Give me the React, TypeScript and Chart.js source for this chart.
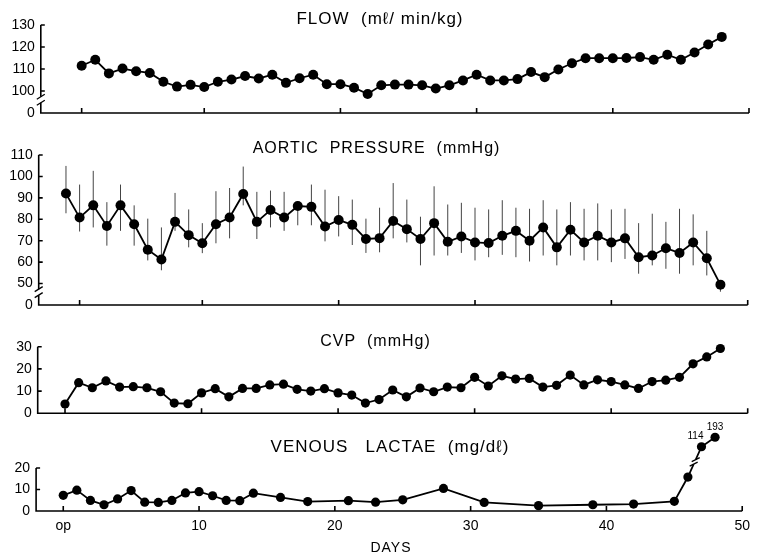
import React, { useEffect, useRef } from 'react';
import { Chart, registerables } from 'chart.js';

Chart.register(...registerables);

const FONT = '"Liberation Sans", Arial, Helvetica, sans-serif';

// ---------- FLOW (ml/min/kg) ----------
const flowDays = [1, 2, 3, 4, 5, 6, 7, 8, 9, 10, 11, 12, 13, 14, 15, 16, 17, 18, 19, 20, 21, 22, 23, 24, 25, 26, 27, 28, 29, 30, 31, 32, 33, 34, 35, 36, 37, 38, 39, 40, 41, 42, 43, 44, 45, 46, 47, 48];
const flowValues = [111.5, 114.2, 108, 110.2, 109, 108.2, 104.2, 102, 102.8, 101.8, 104.2, 105.2, 106.8, 105.7, 107.4, 103.7, 105.8, 107.4, 103.1, 103.1, 101.5, 98.6, 102.6, 102.9, 102.9, 102.6, 101.1, 102.6, 104.8, 107.4, 104.8, 104.8, 105.4, 108.6, 106.3, 109.8, 112.6, 114.9, 114.9, 114.9, 115, 115.4, 114.2, 116.5, 114.2, 117.5, 121.1, 124.6];
const flowYTicks = [90, 100, 110, 120, 130];
const flowYTickLabels = ['0', '100', '110', '120', '130'];
const flowXTicks = [1, 10, 20, 30, 40, 50];

// ---------- AORTIC PRESSURE (mmHg) ----------
const aorticDays = [0, 1, 2, 3, 4, 5, 6, 7, 8, 9, 10, 11, 12, 13, 14, 15, 16, 17, 18, 19, 20, 21, 22, 23, 24, 25, 26, 27, 28, 29, 30, 31, 32, 33, 34, 35, 36, 37, 38, 39, 40, 41, 42, 43, 44, 45, 46, 47, 48];
const aorticMean = [92, 80.8, 86.5, 76.9, 86.5, 77.7, 65.8, 61.2, 78.8, 72.6, 68.8, 77.7, 80.8, 91.8, 78.8, 84.3, 80.8, 86.2, 85.8, 76.6, 79.7, 77.4, 70.8, 71.2, 79.2, 75.4, 70.8, 78.2, 69.5, 72, 69.2, 68.9, 72.3, 74.6, 70, 76.2, 66.9, 75.1, 69.2, 72.3, 69.2, 71.1, 62.3, 63.1, 66.5, 64.3, 69.2, 61.8, 49.5];
const aorticUpper = [104.9, 96.2, 102.6, 88, 96.2, 86.5, 80.3, 76.2, 92.3, 84.6, 78.2, 93.1, 94.6, 104.6, 92.8, 93.4, 92.8, 88.5, 96.2, 93.8, 90.8, 89.2, 80.3, 85.4, 96.9, 89.2, 81.2, 95.4, 86.9, 87.7, 85.4, 84.6, 88.9, 85.4, 84.9, 88.9, 84.6, 88, 84.9, 87.4, 84.6, 84.9, 78.2, 82.6, 78.8, 84.9, 82.3, 74.6, 51.5];
const aorticLower = [82.8, 74.3, 76.2, 67.7, 74.6, 67.7, 60.8, 56.2, 74.6, 66.9, 64.2, 68.8, 71.1, 86.5, 70.8, 76.2, 74.6, 77.2, 77.2, 69.7, 72, 68, 64.3, 64.6, 71.1, 69.2, 58.5, 63.1, 63.1, 64.3, 60.8, 62.3, 63.4, 62.3, 60.3, 63.1, 58.5, 63.1, 60.8, 60.8, 60, 61.5, 54.6, 58.5, 56.9, 54.6, 58.5, 53.8, 46.2];
const aorticYTicks = [40, 50, 60, 70, 80, 90, 100, 110];
const aorticYTickLabels = ['0', '50', '60', '70', '80', '90', '100', '110'];
const aorticXTicks = [1, 10, 20, 30, 40, 50];

// ---------- CVP (mmHg) ----------
const cvpDays = [0, 1, 2, 3, 4, 5, 6, 7, 8, 9, 10, 11, 12, 13, 14, 15, 16, 17, 18, 19, 20, 21, 22, 23, 24, 25, 26, 27, 28, 29, 30, 31, 32, 33, 34, 35, 36, 37, 38, 39, 40, 41, 42, 43, 44, 45, 46, 47, 48];
const cvpValues = [4.2, 13.8, 11.5, 14.6, 11.8, 12, 11.5, 9.7, 4.6, 4.3, 9.2, 11.1, 7.4, 11.2, 11.2, 12.8, 13.1, 10.8, 10, 11.1, 9.2, 8.2, 4.6, 6.2, 10.5, 7.4, 11.4, 9.7, 11.8, 11.5, 16.2, 12.3, 16.9, 15.4, 15.7, 11.8, 12.6, 17.2, 12.8, 15.1, 14.3, 12.8, 11.2, 14.3, 14.9, 16.2, 22.3, 25.4, 29.2];
const cvpYTicks = [0, 10, 20, 30];
const cvpYTickLabels = ['0', '10', '20', '30'];
const cvpXTicks = [0, 10, 20, 30, 40, 50];

// ---------- VENOUS LACTATE (mg/dl) ----------
const lactateDays = [0, 1, 2, 3, 4, 5, 6, 7, 8, 9, 10, 11, 12, 13, 14, 16, 18, 21, 23, 25, 28, 31, 35, 39, 42, 45, 46, 47, 48];
const lactateValues = [7.3, 9.7, 4.9, 2.9, 5.6, 9.5, 4.1, 4.0, 4.9, 8.4, 9.0, 7.1, 4.9, 4.8, 8.3, 6.3, 4.4, 4.8, 4.1, 5.2, 10.5, 4.0, 2.5, 2.9, 3.2, 4.5, 15.8, 114, 193];
const lactateYTicks = [0, 10, 20];
const lactateYTickLabels = ['0', '10', '20'];
const lactateXTicks = [0, 10, 20, 30, 40, 50];
const lactateXTickLabels = ['op', '10', '20', '30', '40', '50'];

// broken axis: values above the break are drawn on a compressed segment
const LACTATE_BREAK = 20;
const lactatePlot = (v: number) => (v <= LACTATE_BREAK ? v : 23.5 + v * 0.056);

type Panel = {
  key: string;
  days: number[];
  values: number[];
  plot?: (v: number) => number;
  upper?: number[];
  lower?: number[];
  yMin: number;
  yMax: number;
  yTicks: number[];
  yTickLabels: string[];
  xTicks: number[];
  xTickLabels?: string[];
  left: number;
  right: number;
  top: number;
  bottom: number;
  yBreak: boolean;
  radius: number;
  title: string;
  titleX: number;
  titleY: number;
  titleSize: number;
  lineBreakAfter?: number;
  labelAbove?: number;
  labelOffsets?: [number, number][];
  xTitle?: { text: string; x: number; y: number };
};

const panels: Panel[] = [
  {
    key: 'flow', days: flowDays, values: flowValues, yMin: 90, yMax: 130,
    yTicks: flowYTicks, yTickLabels: flowYTickLabels, xTicks: flowXTicks,
    left: 40.8, right: 749, top: 25, bottom: 113, yBreak: true, radius: 5,
    title: 'FLOW  (m\u2113/ min/kg)', titleX: 380, titleY: 24, titleSize: 17,
  },
  {
    key: 'aortic', days: aorticDays, values: aorticMean, upper: aorticUpper, lower: aorticLower,
    yMin: 40, yMax: 110, yTicks: aorticYTicks, yTickLabels: aorticYTickLabels, xTicks: aorticXTicks,
    left: 38.7, right: 747.7, top: 155, bottom: 305, yBreak: true, radius: 5,
    title: 'AORTIC  PRESSURE  (mmHg)', titleX: 376.5, titleY: 153, titleSize: 16,
  },
  {
    key: 'cvp', days: cvpDays, values: cvpValues, yMin: 0, yMax: 30,
    yTicks: cvpYTicks, yTickLabels: cvpYTickLabels, xTicks: cvpXTicks,
    left: 37.7, right: 747.7, top: 346.7, bottom: 413.3, yBreak: false, radius: 4.6,
    title: 'CVP  (mmHg)', titleX: 375.5, titleY: 346, titleSize: 16,
  },
  {
    key: 'lactate', days: lactateDays, values: lactateValues, plot: lactatePlot, yMin: 0, yMax: 36,
    yTicks: lactateYTicks, yTickLabels: lactateYTickLabels, xTicks: lactateXTicks, xTickLabels: lactateXTickLabels,
    left: 36.1, right: 748, top: 433.6, bottom: 511, yBreak: false, radius: 4.6,
    title: 'VENOUS   LACTAE  (mg/d\u2113)', titleX: 390, titleY: 451.5, titleSize: 17,
    lineBreakAfter: 26, labelAbove: LACTATE_BREAK, labelOffsets: [[-6, -10], [0, -9.5]],
    xTitle: { text: 'DAYS', x: 391, y: 551.5 },
  },
];

const makeDecor = (p: Panel) => ({
  id: 'decor_' + p.key,
  beforeDatasetsDraw(chart: any) {
    const { ctx, chartArea: a, scales } = chart;
    const xs = scales.x;
    const ys = scales.y;
    ctx.save();
    if (p.upper && p.lower) {
      const meta = chart.getDatasetMeta(0);
      ctx.strokeStyle = '#444';
      ctx.lineWidth = 1;
      ctx.beginPath();
      meta.data.forEach((pt: any, i: number) => {
        ctx.moveTo(pt.x, ys.getPixelForValue(p.upper![i]));
        ctx.lineTo(pt.x, ys.getPixelForValue(p.lower![i]));
      });
      ctx.stroke();
    }
    ctx.strokeStyle = '#000';
    ctx.lineWidth = 1.6;
    const L = a.left;
    const B = a.bottom;
    const top = ys.getPixelForValue(p.yTicks[p.yTicks.length - 1]);
    const xEnd = xs.getPixelForValue(50);
    let yb = 0;
    ctx.beginPath();
    if (p.yBreak) {
      const t1 = ys.getPixelForValue(p.yTicks[1]);
      yb = t1 + 0.4 * (B - t1);
      ctx.moveTo(L, top);
      ctx.lineTo(L, yb - 3);
      ctx.moveTo(L, yb + 3);
      ctx.lineTo(L, B);
    } else {
      ctx.moveTo(L, top);
      ctx.lineTo(L, B);
    }
    ctx.lineTo(xEnd, B);
    p.yTicks.slice(1).forEach((v) => {
      const py = ys.getPixelForValue(v);
      ctx.moveTo(L, py);
      ctx.lineTo(L + 4, py);
    });
    p.xTicks.forEach((v) => {
      const px = xs.getPixelForValue(v);
      ctx.moveTo(px, B);
      ctx.lineTo(px, B - 5);
    });
    ctx.stroke();
    if (p.yBreak) {
      ctx.lineWidth = 1.3;
      ctx.beginPath();
      [yb - 3, yb + 3].forEach((yc) => {
        ctx.moveTo(L - 4, yc + 2.5);
        ctx.lineTo(L + 4, yc - 2.5);
      });
      ctx.stroke();
    }
    ctx.restore();
  },
  afterDatasetsDraw(chart: any) {
    const { ctx } = chart;
    const meta = chart.getDatasetMeta(0);
    ctx.save();
    if (p.lineBreakAfter !== undefined) {
      const p0 = meta.data[p.lineBreakAfter];
      const p1 = meta.data[p.lineBreakAfter + 1];
      const mx = (p0.x + p1.x) / 2;
      const my = (p0.y + p1.y) / 2;
      const dx = p1.x - p0.x;
      const dy = p1.y - p0.y;
      const len = Math.hypot(dx, dy);
      const ux = dx / len;
      const uy = dy / len;
      ctx.strokeStyle = '#fff';
      ctx.lineWidth = 4;
      ctx.beginPath();
      ctx.moveTo(mx - ux * 2.5, my - uy * 2.5);
      ctx.lineTo(mx + ux * 2.5, my + uy * 2.5);
      ctx.stroke();
      ctx.strokeStyle = '#000';
      ctx.lineWidth = 1.3;
      ctx.beginPath();
      [-2.5, 2.5].forEach((s) => {
        const cx = mx + ux * s;
        const cy = my + uy * s;
        ctx.moveTo(cx - 4, cy + 2);
        ctx.lineTo(cx + 4, cy - 2);
      });
      ctx.stroke();
    }
    if (p.labelAbove !== undefined) {
      ctx.font = `10px ${FONT}`;
      ctx.fillStyle = '#000';
      ctx.textAlign = 'center';
      ctx.textBaseline = 'middle';
      let k = 0;
      p.values.forEach((v, i) => {
        if (v > p.labelAbove!) {
          const off = (p.labelOffsets && p.labelOffsets[k]) || [0, -10];
          const pt = meta.data[i];
          ctx.fillText(String(v), pt.x + off[0], pt.y + off[1]);
          k++;
        }
      });
    }
    ctx.restore();
  },
  afterDraw(chart: any) {
    const { ctx } = chart;
    ctx.save();
    ctx.fillStyle = '#000';
    ctx.textAlign = 'center';
    ctx.textBaseline = 'alphabetic';
    ctx.font = `${p.titleSize}px ${FONT}`;
    (ctx as any).letterSpacing = '1px';
    ctx.fillText(p.title, p.titleX, p.titleY);
    if (p.xTitle) {
      ctx.font = `14px ${FONT}`;
      ctx.fillText(p.xTitle.text, p.xTitle.x, p.xTitle.y);
    }
    ctx.restore();
  },
});

const X_AXIS_H = 30;

function buildChart(canvas: HTMLCanvasElement, p: Panel) {
  const data = p.days.map((d, i) => ({ x: d, y: p.plot ? p.plot(p.values[i]) : p.values[i] }));
  const hasX = !!p.xTickLabels;
  const xScale: any = {
    type: 'linear',
    min: -2,
    max: 50,
    display: hasX,
    grid: { display: false, drawTicks: false },
    border: { display: false },
    ticks: {
      autoSkip: false,
      maxRotation: 0,
      padding: 7,
      color: '#000',
      font: { family: FONT, size: 14 },
      callback: (_v: any, i: number) => (p.xTickLabels ? p.xTickLabels[i] : ''),
    },
    afterBuildTicks: (s: any) => {
      s.ticks = p.xTicks.map((v) => ({ value: v }));
    },
  };
  if (hasX) {
    xScale.afterFit = (s: any) => {
      s.height = X_AXIS_H;
    };
  }
  return new Chart(canvas, {
    type: 'line',
    data: {
      datasets: [
        {
          data,
          borderColor: '#000',
          borderWidth: 1.8,
          pointRadius: p.radius,
          pointHoverRadius: p.radius,
          pointBackgroundColor: '#000',
          pointBorderColor: '#000',
          pointBorderWidth: 0,
          tension: 0,
          fill: false,
          clip: false,
        } as any,
      ],
    },
    options: {
      animation: false,
      responsive: false,
      devicePixelRatio: 1,
      events: [],
      layout: {
        padding: {
          left: 0,
          top: p.top,
          right: 757 - p.right,
          bottom: 557 - p.bottom - (hasX ? X_AXIS_H : 0),
        },
      },
      plugins: {
        legend: { display: false },
        title: { display: false },
        tooltip: { enabled: false },
      },
      scales: {
        x: xScale,
        y: {
          type: 'linear',
          min: p.yMin,
          max: p.yMax,
          grid: { display: false, drawTicks: false },
          border: { display: false },
          ticks: {
            autoSkip: false,
            padding: 6,
            color: '#000',
            font: { family: FONT, size: 14 },
            callback: (_v: any, i: number) => p.yTickLabels[i],
          },
          afterBuildTicks: (s: any) => {
            s.ticks = p.yTicks.map((v) => ({ value: v }));
          },
          afterFit: (s: any) => {
            s.width = p.left;
          },
        },
      },
    } as any,
    plugins: [makeDecor(p)],
  });
}

export default function App() {
  const refs = useRef<(HTMLCanvasElement | null)[]>([]);
  useEffect(() => {
    const charts = panels.map((p, i) => buildChart(refs.current[i] as HTMLCanvasElement, p));
    return () => charts.forEach((c) => c.destroy());
  }, []);
  return (
    <div style={{ position: 'fixed', left: 0, top: 0, width: 757, height: 557, background: '#fff' }}>
      {panels.map((p, i) => (
        <canvas
          key={p.key}
          ref={(el) => {
            refs.current[i] = el;
          }}
          width={757}
          height={557}
          style={{ position: 'absolute', left: 0, top: 0, width: 757, height: 557 }}
        />
      ))}
    </div>
  );
}
